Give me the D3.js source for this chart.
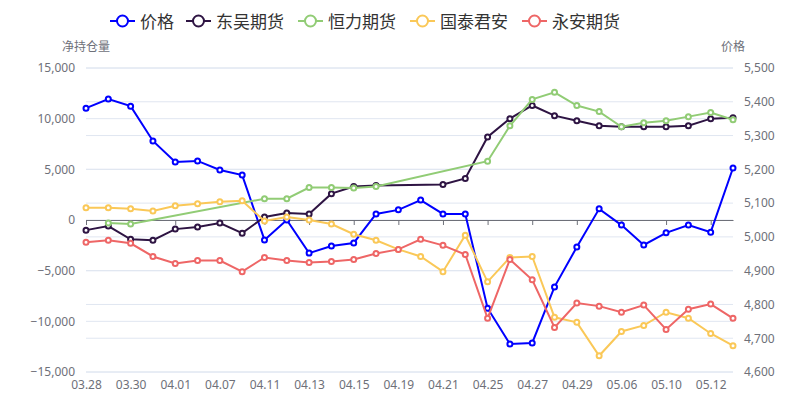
<!DOCTYPE html><html><head><meta charset="utf-8"><script src="https://cdn.jsdelivr.net/npm/d3@7"></script>
<style>body{margin:0;background:#fff}text{font-family:"Noto Sans","Noto Sans CJK SC",sans-serif}</style></head><body><svg id="c" width="800" height="400"></svg><script>
const dates=["03.28","03.29","03.30","03.31","04.01","04.06","04.07","04.08","04.11","04.12","04.13","04.14","04.15","04.18","04.19","04.20","04.21","04.22","04.25","04.26","04.27","04.28","04.29","05.05","05.06","05.09","05.10","05.11","05.12","05.13"];
const price=[5381,5408,5387,5284,5222,5225,5198,5183,4991,5050,4952,4973,4982,5068,5080,5109,5068,5068,4789,4683,4686,4852,4970,5083,5035,4976,5012,5035,5014,5204];
const dongwu=[-1000,-600,-1900,-2000,-900,-700,-300,-1300,300,700,600,2600,3300,3400,null,null,3500,4100,8200,10000,11300,10300,9800,9300,9200,9200,9200,9300,10000,10100];
const hengli=[null,-300,-400,null,null,null,null,null,2100,2100,3200,3200,3150,3300,null,null,null,null,5800,9300,11900,12600,11300,10700,9200,9600,9800,10200,10600,9900];
const guotai=[1200,1200,1100,900,1400,1600,1800,1900,-100,300,0,-400,-1400,-2000,-2900,-3600,-5100,-1500,-6100,-3700,-3600,-9600,-10100,-13400,-11000,-10400,-9100,-9700,-11200,-12400];
const yongan=[-2200,-2000,-2300,-3600,-4300,-4000,-4000,-5100,-3700,-4000,-4200,-4100,-3900,-3300,-2900,-1900,-2500,-3400,-9700,-3900,-5900,-10600,-8200,-8500,-9100,-8400,-10800,-8800,-8300,-9700];
const seriesNames=["价格","东吴期货","恒力期货","国泰君安","永安期货"];
const colors=["#0000ff","#2e1443","#91cc75","#fac858","#ee6666"];
const leftTicks=[-15000,-10000,-5000,0,5000,10000,15000];
const rightTicks=[4600,4700,4800,4900,5000,5100,5200,5300,5400,5500];
const svg=d3.select("#c");
const L=86,R=733,T=68,B=372;
const x=d3.scalePoint().domain(dates).range([L,R]);
const yl=d3.scaleLinear().domain([-15000,15000]).range([B,T]);
const yr=d3.scaleLinear().domain([4600,5500]).range([B,T]);
const g=svg.append("g");
rightTicks.forEach(t=>g.append("line").attr("x1",L).attr("x2",R).attr("y1",yr(t)).attr("y2",yr(t)).attr("stroke","#e0e6f1"));
leftTicks.forEach(t=>g.append("line").attr("x1",L).attr("x2",R).attr("y1",yl(t)).attr("y2",yl(t)).attr("stroke","#e0e6f1"));
const la=svg.append("g").attr("transform",`translate(${L-8},0)`).call(d3.axisLeft(yl).tickValues(leftTicks).tickFormat(d3.format(",")).tickSize(0));
const ra=svg.append("g").attr("transform",`translate(${R+8},0)`).call(d3.axisRight(yr).tickValues(rightTicks).tickFormat(d3.format(",")).tickSize(0));
[la,ra].forEach(a=>{a.select(".domain").remove();a.selectAll("text").attr("fill","#6e7079").attr("font-size",12);});
const xa=svg.append("g").attr("transform",`translate(0,${yl(0)})`).call(d3.axisBottom(x).tickValues(dates.filter((d,i)=>i%2==0)).tickSize(5).tickSizeOuter(0));
xa.select(".domain").attr("stroke","#6e7079");xa.selectAll("line").attr("stroke","#6e7079");
xa.selectAll("text").attr("fill","#6e7079").attr("font-size",12).attr("y",B-yl(0)+8);
svg.append("text").attr("x",86).attr("y",51).attr("text-anchor","middle").attr("fill","#6e7079").attr("font-size",12).text("净持仓量");
svg.append("text").attr("x",733).attr("y",51).attr("text-anchor","middle").attr("fill","#6e7079").attr("font-size",12).text("价格");
const data=[price,dongwu,hengli,guotai,yongan];
data.forEach((arr,k)=>{
  const ys=k==0?yr:yl;
  const pts=arr.map((v,i)=>[dates[i],v]).filter(p=>p[1]!=null);
  svg.append("path").datum(pts).attr("fill","none").attr("stroke",colors[k]).attr("stroke-width",2)
    .attr("d",d3.line().x(p=>x(p[0])).y(p=>ys(p[1])));
  svg.selectAll(null).data(pts).join("circle").attr("cx",p=>x(p[0])).attr("cy",p=>ys(p[1])).attr("r",2.5)
    .attr("fill","#fff").attr("stroke",colors[k]).attr("stroke-width",2);
});
const lg=svg.append("g");
const lx=[110,186,298,410,522];
seriesNames.forEach((n,k)=>{
  const gg=lg.append("g").attr("transform",`translate(${lx[k]},21)`);
  gg.append("line").attr("x1",0).attr("x2",25).attr("stroke",colors[k]).attr("stroke-width",2);
  gg.append("circle").attr("cx",12.5).attr("r",5.5).attr("fill","#fff").attr("stroke",colors[k]).attr("stroke-width",2);
  gg.append("text").attr("x",30).attr("y",6.5).attr("font-size",17).attr("fill","#333").text(n);
});
</script></body></html>
